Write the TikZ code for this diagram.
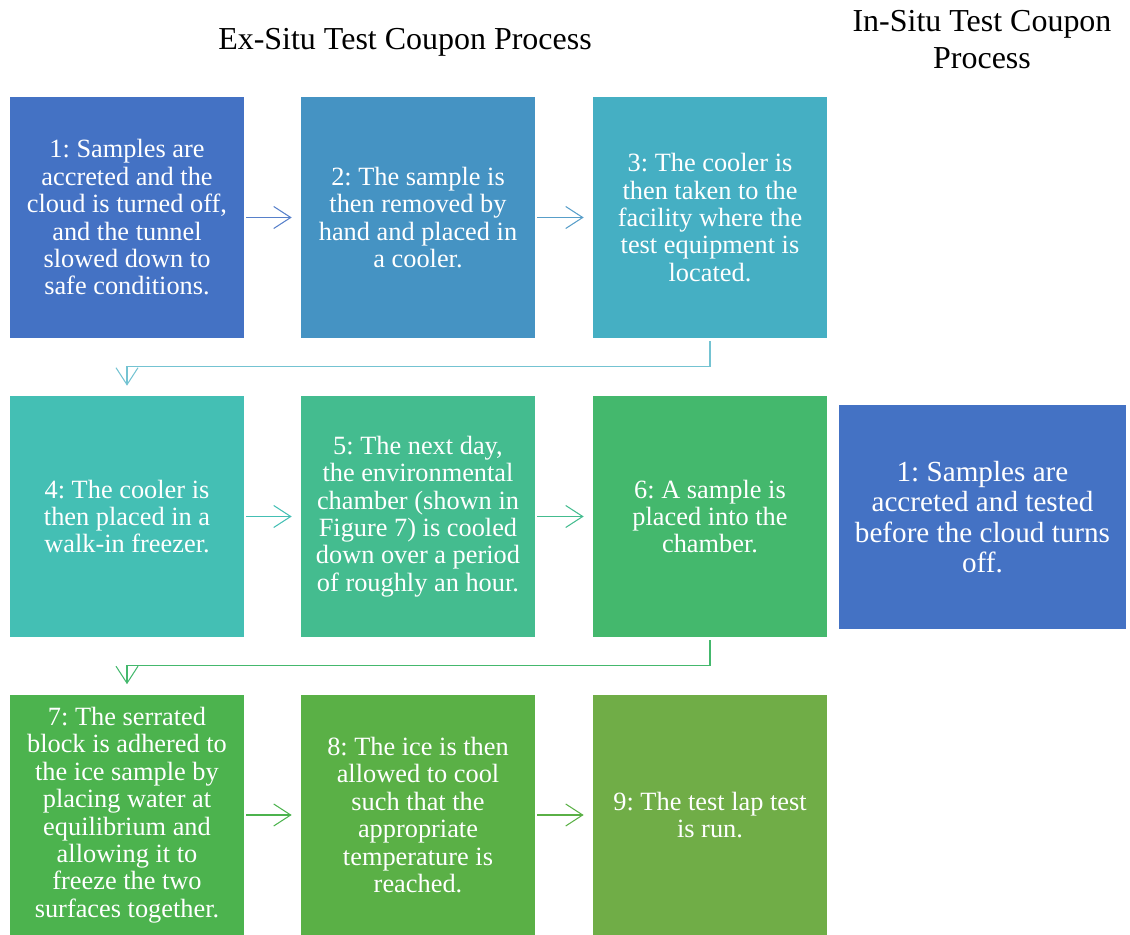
\documentclass[tikz,border=0pt]{standalone}
\usepackage{fontspec}
\setmainfont{Liberation Serif}
\usetikzlibrary{arrows.meta}
\frenchspacing
\definecolor{cA}{HTML}{4472C4}
\definecolor{cB}{HTML}{4593C3}
\definecolor{cC}{HTML}{45AFC3}
\definecolor{cD}{HTML}{44BFB4}
\definecolor{cE}{HTML}{44BC8F}
\definecolor{cF}{HTML}{44B86D}
\definecolor{cG}{HTML}{4CB34E}
\definecolor{cH}{HTML}{5AB046}
\definecolor{cI}{HTML}{70AD47}
\tikzset{
  stepbox/.style={minimum width=4.68cm,minimum height=4.82cm,inner sep=0pt,
    text=white,align=center,font=\fontsize{15}{15.6}\selectfont},
  flow/.style={line width=0.6pt,-{Straight Barb[length=0.34cm,width=0.44cm,line width=0.6pt]},
    shorten <=0.04cm,shorten >=0.18cm},
  elbow/.style={line width=0.6pt,-{Straight Barb[length=0.34cm,width=0.44cm,line width=0.6pt]},
    shorten <=0.06cm,shorten >=0.2cm},
  heading/.style={align=center,font=\fontsize{18.2}{21}\selectfont}
}
\begin{document}
\begin{tikzpicture}[x=0.02cm,y=-0.02cm]
\useasboundingbox (0,0) rectangle (1130,935);
% headings
\node[heading] (hex) at (405,42) {Ex-Situ Test Coupon Process};
\node[heading] (hin) at (982,40) {In-Situ Test Coupon\\Process};
% first row
\node[stepbox,fill=cA] (b1) at (127,217.5) {1: Samples are\\accreted and the\\cloud is turned off,\\and the tunnel\\slowed down to\\safe conditions.};
\node[stepbox,fill=cB] (b2) at (418,217.5) {2: The sample is\\then removed by\\hand and placed in\\a cooler.};
\node[stepbox,fill=cC] (b3) at (710,217.5) {3: The cooler is\\then taken to the\\facility where the\\test equipment is\\located.};
% second row
\node[stepbox,fill=cD] (b4) at (127,516.5) {4: The cooler is\\then placed in a\\walk-in freezer.};
\node[stepbox,fill=cE] (b5) at (418,516.5) {5: The next day,\\the environmental\\chamber (shown in\\Figure 7) is cooled\\down over a period\\of roughly an hour.};
\node[stepbox,fill=cF] (b6) at (710,516.5) {6: A sample is\\placed into the\\chamber.};
% third row
\node[stepbox,fill=cG] (b7) at (127,815) {7: The serrated\\block is adhered to\\the ice sample by\\placing water at\\equilibrium and\\allowing it to\\freeze the two\\surfaces together.};
\node[stepbox,fill=cH] (b8) at (418,815) {8: The ice is then\\allowed to cool\\such that the\\appropriate\\temperature is\\reached.};
\node[stepbox,fill=cI] (b9) at (710,815) {9: The test lap test\\is run.};
% in-situ
\node[stepbox,fill=cA,minimum width=5.74cm,minimum height=4.48cm,
  font=\fontsize{16.6}{17.4}\selectfont] (s1) at (982.5,517) {1: Samples are\\accreted and tested\\before the cloud turns\\off.};
% connectors
\draw[flow,color=cA!90!white] (b1) -- (b2);
\draw[flow,color=cB!90!white] (b2) -- (b3);
\draw[elbow,color=cC!75!white] (b3.south) -- ++(0,28) -| (b4.north);
\draw[flow,color=cD] (b4) -- (b5);
\draw[flow,color=cE] (b5) -- (b6);
\draw[elbow,color=cF] (b6.south) -- ++(0,28) -| (b7.north);
\draw[flow,color=cG] (b7) -- (b8);
\draw[flow,color=cH] (b8) -- (b9);
\end{tikzpicture}
\end{document}
